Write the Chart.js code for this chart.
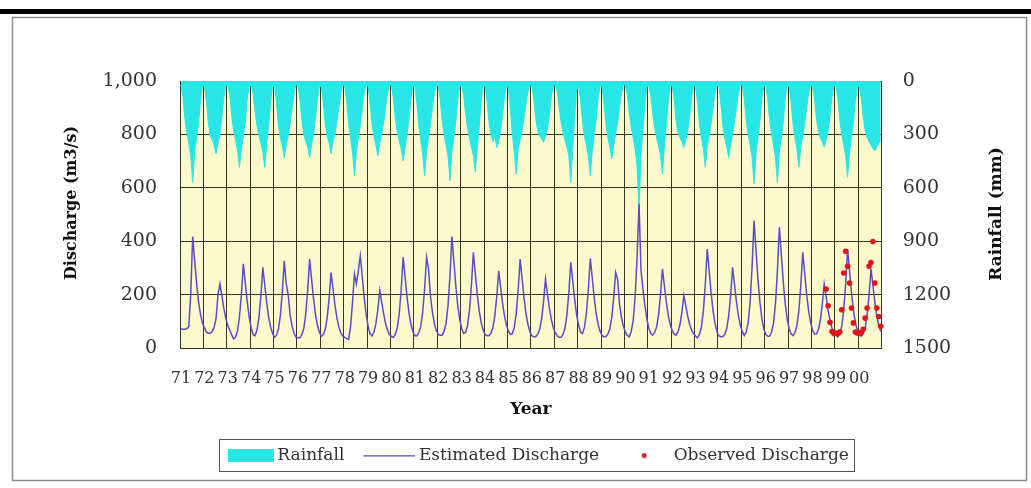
<!DOCTYPE html>
<html>
<head>
<meta charset="utf-8">
<script src="https://cdn.jsdelivr.net/npm/chart.js@4.4.1/dist/chart.umd.min.js"></script>
<style>
  html, body { margin: 0; padding: 0; background: #fff; }
  canvas { display: block; }
</style>
</head>
<body>
<canvas id="dischargeChart" width="1031" height="488"></canvas>
<script>
// Monthly values, Jan..Dec for each year, 1971 - 2000
const years = ['71', '72', '73', '74', '75', '76', '77', '78', '79', '80',
               '81', '82', '83', '84', '85', '86', '87', '88', '89', '90',
               '91', '92', '93', '94', '95', '96', '97', '98', '99', '00'];

// rainfall (mm), right axis
const rainfall = [
  20, 90, 210, 290, 350, 420, 570, 400, 320, 240, 110, 30,
  25, 110, 230, 310, 330, 360, 410, 350, 300, 200, 90, 25,
  20, 80, 190, 280, 330, 390, 485, 380, 310, 230, 100, 30,
  25, 70, 170, 250, 310, 350, 400, 485, 350, 250, 120, 30,
  30, 120, 250, 320, 360, 429, 360, 310, 240, 160, 70, 20,
  25, 100, 220, 300, 340, 370, 429, 360, 300, 210, 100, 30,
  30, 120, 240, 310, 350, 410, 340, 300, 230, 150, 70, 20,
  30, 110, 240, 320, 400, 532, 390, 320, 250, 160, 70, 25,
  30, 120, 240, 310, 360, 420, 350, 300, 230, 150, 70, 20,
  25, 100, 210, 290, 340, 380, 448, 370, 300, 210, 100, 30,
  30, 120, 250, 330, 410, 532, 400, 320, 240, 150, 70, 25,
  25, 100, 220, 300, 360, 420, 560, 400, 320, 230, 100, 30,
  25, 80, 180, 260, 320, 370, 420, 513, 380, 260, 120, 30,
  30, 110, 230, 300, 340, 310, 373, 340, 280, 190, 90, 25,
  40, 160, 300, 400, 522, 380, 330, 280, 210, 130, 60, 20,
  25, 100, 210, 280, 310, 320, 345, 310, 270, 190, 90, 25,
  20, 60, 150, 230, 290, 330, 370, 420, 570, 380, 200, 50,
  25, 110, 230, 310, 360, 420, 532, 390, 310, 220, 100, 30,
  30, 120, 240, 320, 370, 438, 360, 300, 230, 150, 70, 20,
  25, 80, 180, 260, 320, 380, 480, 719, 420, 280, 130, 35,
  25, 80, 180, 260, 320, 360, 420, 520, 370, 250, 120, 30,
  25, 100, 220, 290, 320, 340, 373, 330, 280, 190, 90, 25,
  30, 120, 240, 320, 380, 485, 370, 310, 240, 150, 70, 25,
  30, 130, 250, 320, 370, 429, 360, 300, 230, 150, 70, 20,
  25, 100, 220, 300, 360, 430, 579, 410, 320, 230, 100, 30,
  25, 100, 220, 300, 360, 430, 570, 400, 320, 230, 100, 30,
  30, 120, 240, 320, 380, 485, 370, 310, 240, 150, 70, 25,
  25, 100, 210, 280, 320, 340, 373, 330, 280, 190, 90, 25,
  25, 100, 220, 300, 360, 420, 541, 400, 320, 230, 110, 35,
  30, 100, 200, 280, 320, 340, 360, 380, 392, 370, 350, 330
];

// estimated discharge (m3/s), left axis
const estimatedDischarge = [
  72, 70, 70, 72, 80, 200, 417, 330, 244, 174, 126, 94,
  77, 60, 55, 55, 62, 77, 111, 200, 240, 194, 148, 111,
  85, 68, 50, 34, 41, 64, 116, 201, 315, 244, 173, 116,
  76, 50, 46, 67, 115, 195, 302, 235, 169, 115, 78, 54,
  40, 47, 70, 123, 210, 327, 240, 200, 123, 82, 55, 41,
  38, 38, 50, 73, 127, 215, 333, 259, 186, 127, 85, 59,
  44, 50, 69, 113, 186, 283, 221, 162, 113, 79, 57, 45,
  40, 35, 32, 80, 170, 277, 240, 290, 346, 268, 189, 126,
  82, 54, 45, 59, 91, 144, 215, 171, 127, 91, 66, 50,
  43, 40, 52, 76, 130, 220, 340, 265, 190, 130, 88, 61,
  46, 45, 57, 80, 134, 222, 340, 297, 193, 134, 92, 66,
  51, 48, 48, 63, 92, 159, 269, 417, 325, 233, 159, 107,
  74, 55, 58, 83, 140, 233, 358, 280, 202, 140, 96, 68,
  51, 46, 46, 56, 75, 119, 192, 289, 228, 168, 119, 85,
  63, 51, 54, 77, 129, 217, 333, 260, 188, 129, 89, 62,
  46, 42, 42, 51, 68, 107, 172, 258, 204, 150, 107, 77,
  57, 46, 40, 40, 51, 74, 124, 209, 321, 251, 181, 124,
  85, 60, 54, 77, 130, 218, 336, 263, 189, 130, 89, 63,
  47, 42, 42, 52, 71, 114, 187, 283, 258, 163, 114, 81,
  59, 47, 42, 62, 102, 191, 341, 540, 293, 220, 160, 110,
  75, 55, 48, 58, 78, 122, 197, 296, 234, 172, 122, 88,
  65, 53, 48, 60, 88, 134, 196, 158, 119, 88, 67, 53,
  45, 38, 51, 78, 138, 238, 371, 288, 205, 138, 91, 61,
  45, 42, 42, 52, 73, 120, 198, 302, 237, 172, 120, 84,
  60, 47, 59, 94, 173, 303, 477, 368, 260, 173, 112, 72,
  51, 44, 44, 60, 93, 166, 289, 452, 350, 248, 166, 109,
  73, 52, 46, 58, 83, 140, 233, 358, 280, 202, 140, 96,
  68, 52, 52, 68, 103, 162, 240, 191, 142, 103, 75, 58,
  48, 42, 55, 81, 141, 239, 371, 289, 207, 141, 95, 65,
  49, 44, 54, 74, 120, 196, 297, 234, 171, 120, 84, 62
];

// observed discharge (m3/s), measured from Aug 1998
const observedFromYear = '98';
const observedFromMonth = 8;
const observedDischarge = [
  221, 158, 96, 62, 54,
  56, 54, 60, 143, 281, 362, 306, 243, 150, 94, 60, 56,
  56, 58, 70, 112, 150, 306, 320, 399, 243, 150, 118, 81
];

const dischargeTicks = [0, 200, 400, 600, 800, 1000];
const rainfallTicks = [0, 300, 600, 900, 1200, 1500];

// month labels + observed series aligned to them
const months = [];
years.forEach(y => { for (let m = 1; m <= 12; m++) months.push(y + '-' + m); });
const observedSeries = months.map(() => null);
const obsStart = years.indexOf(observedFromYear) * 12 + observedFromMonth - 1;
observedDischarge.forEach((v, i) => { observedSeries[obsStart + i] = v; });

const serif = 'DejaVu Serif';
const gridColor = '#35352a';
const rainColor = '#28e6e6';
const lineColor = '#5b4bc4';
const obsColor = '#e3141c';

// legend symbols: 66px wide images, drawn close to the label text
function icon(h, draw) {
  const c = document.createElement('canvas');
  c.width = 66; c.height = h;
  draw(c.getContext('2d'));
  return c;
}
const legendIcons = [
  icon(13, g => { g.fillStyle = rainColor; g.fillRect(20, 0, 46, 13); }),
  icon(2, g => { g.fillStyle = lineColor; g.fillRect(14, 0, 52, 1.5); }),
  icon(6, g => { g.fillStyle = obsColor; g.beginPath(); g.arc(40, 3, 2.5, 0, Math.PI * 2); g.fill(); })
];

const framePlugin = {
  id: 'frame',
  beforeDraw(chart) {
    const { ctx, chartArea: a } = chart;
    ctx.save();
    ctx.fillStyle = '#fff';
    ctx.fillRect(0, 0, chart.width, chart.height);
    ctx.fillStyle = '#000';
    ctx.fillRect(0, 9, chart.width, 5);
    ctx.strokeStyle = '#8c8c8c';
    ctx.lineWidth = 1.5;
    ctx.strokeRect(12.5, 17.5, 1014, 463);
    ctx.fillStyle = '#fcf9cc';
    ctx.fillRect(a.left, a.top, a.right - a.left, a.bottom - a.top);
    ctx.restore();
  },
  afterDraw(chart) {
    const ctx = chart.ctx;
    const hb = chart.legend.legendHitBoxes;
    ctx.save();
    if (hb && hb.length) {
      const left = Math.min(...hb.map(b => b.left)) + 6;
      const right = Math.max(...hb.map(b => b.left + b.width)) + 5;
      const top = hb[0].top - 8;
      ctx.strokeStyle = '#555';
      ctx.lineWidth = 1;
      ctx.strokeRect(Math.round(left) + 0.5, Math.round(top) + 0.5, Math.round(right - left), 32);
    }
    // vertical axis titles
    ctx.fillStyle = '#111';
    ctx.textAlign = 'center';
    ctx.textBaseline = 'middle';
    ctx.font = 'bold 16px "' + serif + '"';
    ctx.translate(72, 203);
    ctx.rotate(-Math.PI / 2);
    ctx.fillText('Discharge (m3/s)', 0, 0);
    ctx.setTransform(1, 0, 0, 1, 0, 0);
    ctx.font = 'bold 17px "' + serif + '"';
    ctx.translate(997, 214);
    ctx.rotate(-Math.PI / 2);
    ctx.fillText('Rainfall (mm)', 0, 0);
    ctx.restore();
  }
};

new Chart(document.getElementById('dischargeChart'), {
  type: 'line',
  data: {
    labels: months,
    datasets: [{
      label: 'Rainfall',
      data: rainfall,
      yAxisID: 'y1',
      borderColor: rainColor,
      backgroundColor: rainColor,
      borderWidth: 1,
      fill: 'origin',
      pointRadius: 0,
      order: 3
    }, {
      label: 'Estimated Discharge',
      data: estimatedDischarge,
      yAxisID: 'y',
      borderColor: lineColor,
      borderWidth: 1.5,
      fill: false,
      pointRadius: 0,
      order: 2
    }, {
      label: 'Observed Discharge',
      data: observedSeries,
      yAxisID: 'y',
      showLine: false,
      pointRadius: 2.8,
      pointBorderWidth: 0,
      pointBackgroundColor: obsColor,
      backgroundColor: obsColor,
      borderColor: obsColor,
      order: 1
    }]
  },
  options: {
    responsive: false,
    animation: false,
    locale: 'en-US',
    layout: { padding: { top: 81, left: 0, right: 0, bottom: 14 } },
    plugins: {
      tooltip: { enabled: false },
      legend: {
        position: 'bottom',
        fullSize: false,
        labels: {
          usePointStyle: true,
          pointStyleWidth: 56,
          padding: 10,
          color: '#333',
          font: { family: serif, size: 17 },
          sort: (a, b) => a.datasetIndex - b.datasetIndex,
          generateLabels: chart =>
            Chart.defaults.plugins.legend.labels.generateLabels(chart)
              .map(item => ({ ...item, pointStyle: legendIcons[item.datasetIndex] }))
        }
      }
    },
    scales: {
      x: {
        type: 'category',
        offset: true,
        z: 1,
        afterFit: s => { s.height = 89; },
        grid: {
          offset: true,
          drawTicks: false,
          color: c => (c.index % 12 === 0 || c.index === months.length) ? gridColor : 'rgba(0,0,0,0)',
          lineWidth: 1
        },
        border: { color: gridColor },
        ticks: {
          autoSkip: false,
          maxRotation: 0,
          minRotation: 0,
          padding: 21,
          color: '#333',
          font: { family: serif, size: 16 },
          callback: (v, i) => (i % 12 === 0 ? years[i / 12] : '')
        },
        title: {
          display: true,
          text: 'Year',
          color: '#111',
          font: { family: serif, size: 17, weight: 'bold' },
          padding: { top: 0, bottom: 17 }
        }
      },
      y: {
        position: 'left',
        min: 0,
        max: 1000,
        z: 1,
        afterFit: s => { s.width = 180; },
        afterBuildTicks: s => { s.ticks = dischargeTicks.map(v => ({ value: v })); },
        grid: { color: gridColor, drawTicks: false },
        border: { color: gridColor },
        ticks: {
          padding: 23,
          color: '#333',
          font: { family: serif, size: 19 }
        }
      },
      y1: {
        position: 'right',
        reverse: true,
        min: 0,
        max: 1500,
        z: 1,
        afterFit: s => { s.width = 149.3; },
        afterBuildTicks: s => { s.ticks = rainfallTicks.map(v => ({ value: v })); },
        grid: { display: false, drawTicks: false },
        border: { color: gridColor },
        ticks: {
          padding: 21,
          color: '#333',
          font: { family: serif, size: 19 },
          callback: v => String(v)
        }
      }
    }
  },
  plugins: [framePlugin]
});
</script>
</body>
</html>
